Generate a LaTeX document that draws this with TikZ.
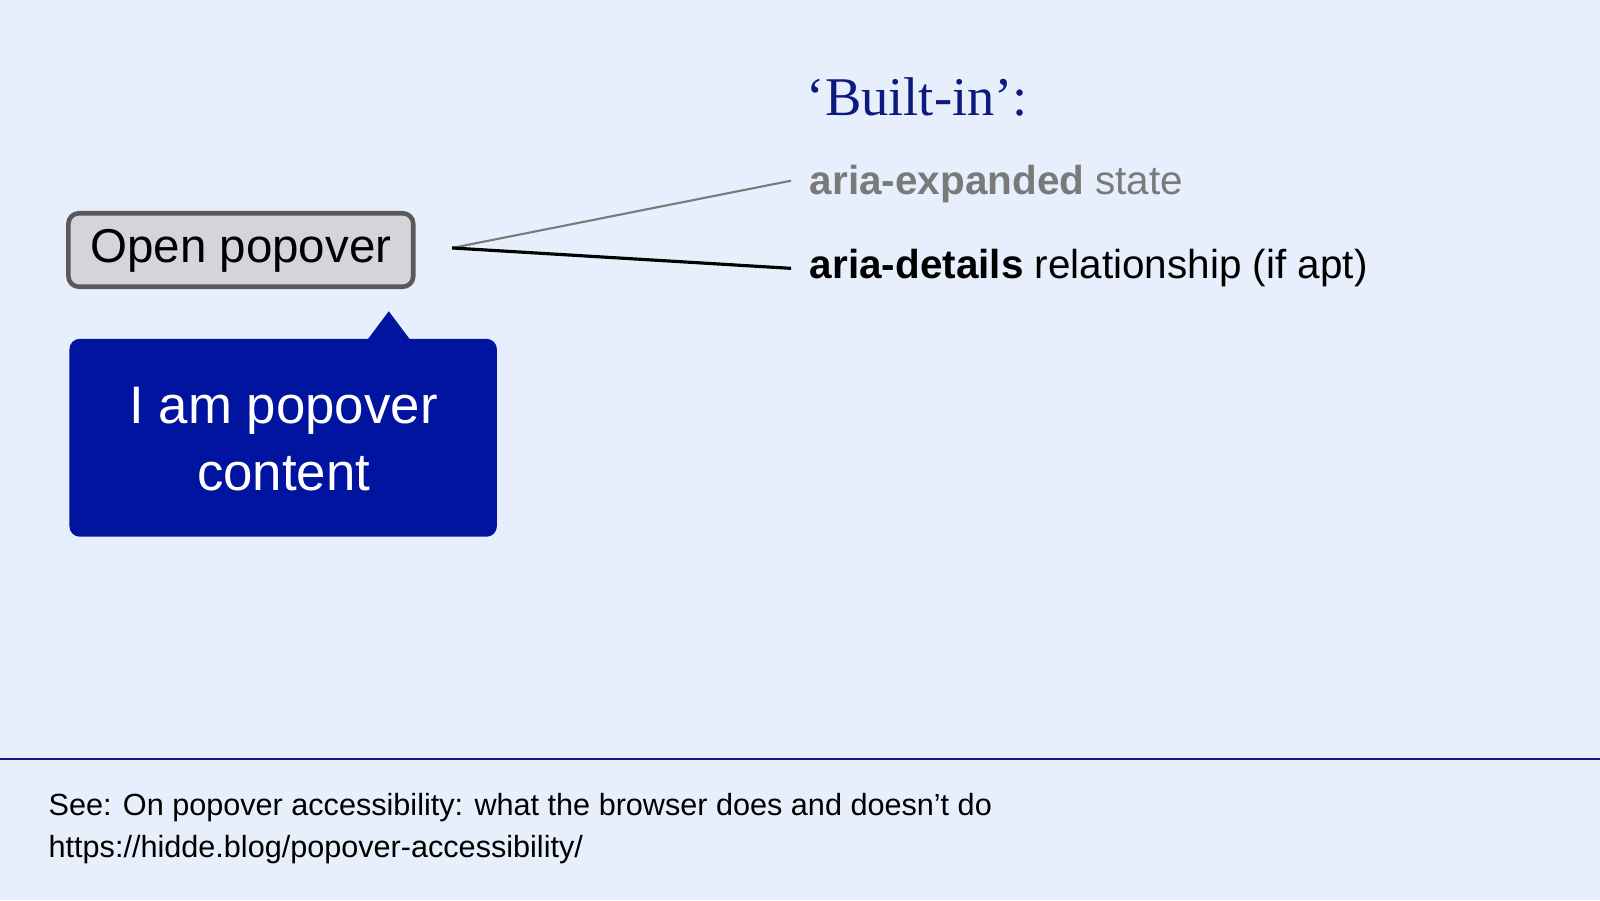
\documentclass[tikz,border=0pt]{standalone}
\usepackage{fontspec}
\setmainfont{Liberation Sans}
\newfontfamily\titlefont{Liberation Serif}
\definecolor{bg}{HTML}{E8EFFC}
\definecolor{navy}{HTML}{0B1A7C}
\definecolor{pop}{HTML}{0014A0}
\definecolor{btn}{HTML}{D4D4DA}
\definecolor{grey}{HTML}{7A7A7A}
\begin{document}
\begin{tikzpicture}[x=0.0102cm,y=-0.0102cm,
  lbl/.style={anchor=west,inner sep=0pt,font=\fontsize{11.5}{13}\selectfont}]
\fill[bg] (0,0) rectangle (1568,882);
\useasboundingbox (0,0) rectangle (1568,882);
\node[anchor=west,inner sep=0pt,text=navy,font=\titlefont\fontsize{15.5}{19}\selectfont] (title) at (790,95) {‘Built-in’:};
\draw[black!65,line width=1.3pt,fill=btn,rounded corners=3pt] (67,209) rectangle (405,281);
\node[font=\fontsize{13.5}{15}\selectfont] (btntext) at (236,246) {Open popover};
\fill[pop,rounded corners=3pt] (68,332) rectangle (487,526);
\fill[pop] (360,333) -- (381,305) -- (402,333) -- cycle;
\node[text=white,align=center,font=\fontsize{15}{19}\selectfont] (poptext) at (278,430) {I am popover\\content};
\coordinate (src) at (443,243);
\node[lbl,text=grey] (exp) at (793,180) {\textbf{aria-expanded} state};
\node[lbl,text=black] (det) at (793,263) {\textbf{aria-details} relationship (if apt)};
\draw[grey,line width=0.6pt] (src) -- ([xshift=-0.18cm,yshift=0.03cm]exp.west);
\draw[black,line width=0.9pt] (src) -- ([xshift=-0.18cm]det.west);
\draw[navy,line width=0.6pt] (0,744) -- (1568,744);
\node[anchor=west,inner sep=0pt,font=\fontsize{8.7}{10}\selectfont] (f1) at (47,791) {See: On popover accessibility: what the browser does and doesn’t do};
\node[anchor=west,inner sep=0pt,font=\fontsize{8.7}{10}\selectfont] (f2) at (47,833) {https://hidde.blog/popover-accessibility/};
\end{tikzpicture}
\end{document}
